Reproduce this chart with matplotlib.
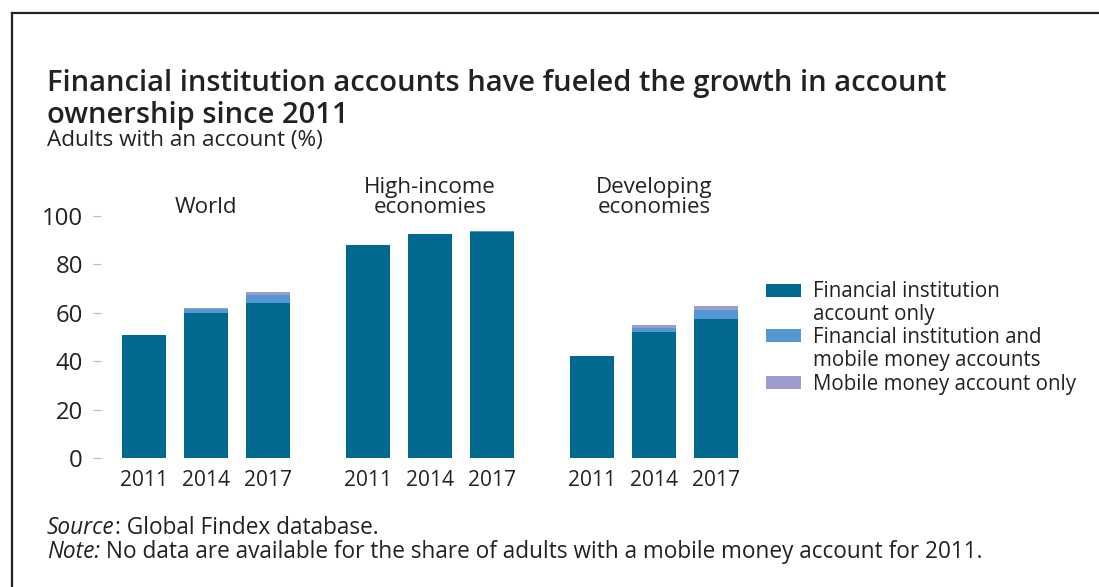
import matplotlib
matplotlib.use("Agg")
import matplotlib.pyplot as plt
from matplotlib.patches import Rectangle
from matplotlib.lines import Line2D

plt.rcParams['font.family'] = ['Open Sans', 'DejaVu Sans']

groups = ["World", "High-income\neconomies", "Developing\neconomies"]
years = ["2011", "2014", "2017"]
fi_only = [[51, 60, 64], [88, 92.5, 93.3], [42, 52, 57.5]]
fi_and_mobile = [[0, 1.5, 3.2], [0, 0, 0.3], [0, 1.8, 3.8]]
mobile_only = [[0, 0.6, 1.4], [0, 0, 0], [0, 1.2, 1.7]]
series_names = ["Financial institution\naccount only",
                "Financial institution and\nmobile money accounts",
                "Mobile money account only"]
colors = ["#00698F", "#5497D3", "#9E9BCD"]
TXT = "#222222"

fig = plt.figure(figsize=(10.99, 5.87), dpi=100)
W, H = 1099, 587
renderer = fig.canvas.get_renderer()


def fx(px):
    return px / W


def fy(py):
    return 1 - py / H


def size_for(s, target, **kw):
    t = fig.text(0, 0, s, fontsize=20, **kw)
    w = t.get_window_extent(renderer).width
    t.remove()
    return 20 * target / w


# Border lines (top & left)
fig.add_artist(Line2D([fx(12), fx(1099)], [fy(13), fy(13)], color="#222222", lw=1.6))
fig.add_artist(Line2D([fx(12), fx(12)], [fy(13), fy(587)], color="#222222", lw=1.6))

ax_left, ax_right = 101, 745
ax = fig.add_axes([fx(ax_left), fy(458), fx(ax_right - ax_left), (458 - 216) / H])

group_gap = 3.613
bar_w = 0.71
xs, labels = [], []
for g in range(len(groups)):
    for i, yr in enumerate(years):
        x = g * group_gap + i
        b0 = fi_only[g][i]
        b1 = fi_and_mobile[g][i]
        b2 = mobile_only[g][i]
        ax.bar(x, b0, width=bar_w, color=colors[0], linewidth=0)
        if b1 > 0:
            ax.bar(x, b1, bottom=b0, width=bar_w, color=colors[1], linewidth=0)
        if b2 > 0:
            ax.bar(x, b2, bottom=b0 + b1, width=bar_w, color=colors[2], linewidth=0)
        xs.append(x)
        labels.append(yr)

xt_size = size_for("2011", 48)
yt_size = size_for("100", 41)
ax.set_xlim((ax_left - 144) / 62, (ax_right - 144) / 62)
ax.set_ylim(0, 100)
ax.set_yticks([0, 20, 40, 60, 80, 100])
ax.set_xticks(xs)
ax.set_xticklabels(labels, fontsize=xt_size, color=TXT)
ax.tick_params(axis="x", length=0, pad=9)
ax.tick_params(axis="y", length=6, color="#bbbbbb", width=0.8, pad=7,
               labelsize=yt_size, labelcolor=TXT)
for s in ax.spines.values():
    s.set_visible(False)

# Group labels
gl_size = size_for("economies", 113)
for g, name in enumerate(groups):
    cx = g * group_gap + 1
    lines = name.split("\n")
    bx, by = ax.transData.transform((cx, 0))
    for k, ln in enumerate(reversed(lines)):
        fig.text(bx / fig.dpi / fig.get_size_inches()[0], fy(213 - 20 * k), ln,
                 ha="center", va="baseline", fontsize=gl_size, color=TXT)

# Title and subtitle
title_size = size_for("Financial institution accounts have fueled the growth in account", 898,
                      fontweight="semibold")
fig.text(fx(47), fy(91), "Financial institution accounts have fueled the growth in account",
         fontsize=title_size, fontweight="semibold", color=TXT, va="baseline")
fig.text(fx(47), fy(123), "ownership since 2011",
         fontsize=title_size, fontweight="semibold", color=TXT, va="baseline")
sub_size = size_for("Adults with an account (%)", 275)
fig.text(fx(47), fy(146), "Adults with an account (%)", fontsize=sub_size, color=TXT, va="baseline")

# Legend (manual)
leg_size = size_for("Mobile money account only", 263)
leg_lines_y = [[297, 320], [343, 366], [390]]
patch_y = [284, 329, 376]
for c, name, ys, py in zip(colors, series_names, leg_lines_y, patch_y):
    fig.add_artist(Rectangle((fx(766), fy(py + 13)), fx(35), 13 / H, facecolor=c,
                             edgecolor="none", transform=fig.transFigure))
    for ln, yb in zip(name.split("\n"), ys):
        fig.text(fx(813), fy(yb), ln, fontsize=leg_size, color=TXT, va="baseline")

# Source and note
note_rest = " No data are available for the share of adults with a mobile money account for 2011."
note_size = size_for("Note:" + note_rest, 938)
t1 = fig.text(fx(47), fy(534), "Source", fontsize=note_size, style="italic", color=TXT, va="baseline")
w1 = t1.get_window_extent(renderer).width
fig.text(fx(47 + w1), fy(534), ": Global Findex database.", fontsize=note_size, color=TXT, va="baseline")
t2 = fig.text(fx(47), fy(558), "Note:", fontsize=note_size, style="italic", color=TXT, va="baseline")
w2 = t2.get_window_extent(renderer).width
fig.text(fx(47 + w2), fy(558), note_rest, fontsize=note_size, color=TXT, va="baseline")

fig.savefig("out.png", dpi=100)
